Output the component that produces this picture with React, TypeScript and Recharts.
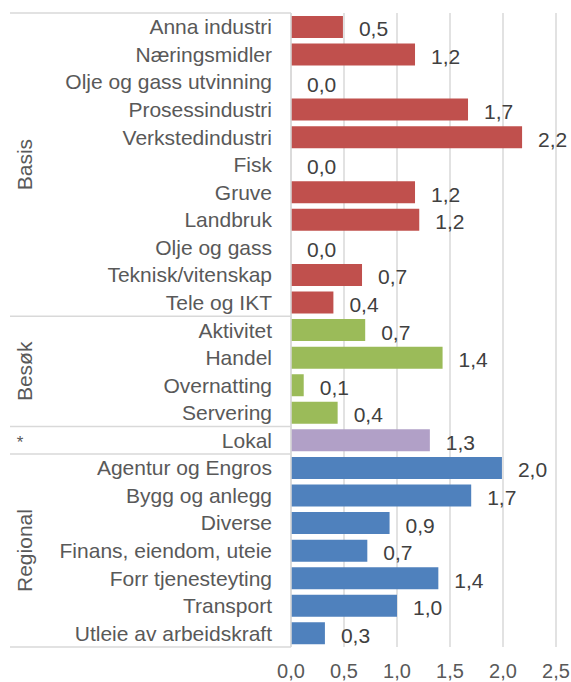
import { Bar, BarChart, CartesianGrid, Cell, LabelList, XAxis, YAxis } from "recharts";

const categories = [
  "Anna industri",
  "Næringsmidler",
  "Olje og gass utvinning",
  "Prosessindustri",
  "Verkstedindustri",
  "Fisk",
  "Gruve",
  "Landbruk",
  "Olje og gass",
  "Teknisk/vitenskap",
  "Tele og IKT",
  "Aktivitet",
  "Handel",
  "Overnatting",
  "Servering",
  "Lokal",
  "Agentur og Engros",
  "Bygg og anlegg",
  "Diverse",
  "Finans, eiendom, uteie",
  "Forr tjenesteyting",
  "Transport",
  "Utleie av arbeidskraft"
];

const values = [
  0.49, 1.17, 0.0, 1.67, 2.18, 0.0, 1.17, 1.21, 0.0, 0.67, 0.4,
  0.7, 1.43, 0.12, 0.44,
  1.31,
  1.99, 1.7, 0.93, 0.72, 1.39, 1.0, 0.32
];

const groupNames = ["Basis", "Besøk", "*", "Regional"];
const groupSizes = [11, 4, 1, 7];
const groupColors = ["#C0504D", "#9BBB59", "#B1A0C7", "#4F81BD"];
const xTicks = [0, 0.5, 1, 1.5, 2, 2.5];

const W = 571;
const H = 682;
const MARGIN = { top: 13, right: 15, bottom: 0, left: 0 };
const X_AXIS_H = 35;
const Y_AXIS_W = 291;
const PLOT_H = H - MARGIN.top - MARGIN.bottom - X_AXIS_H;
const BAND = PLOT_H / categories.length;

const FONT = "'Liberation Sans', Arial, sans-serif";
const TEXT = "#595959";
const LINE = "#d9d9d9";

const groupStarts = groupSizes.map((_, i) =>
  groupSizes.slice(0, i).reduce((a, b) => a + b, 0)
);

const groupOf = (idx: number) => {
  let g = 0;
  groupStarts.forEach((s, i) => {
    if (idx >= s) g = i;
  });
  return g;
};

const data = categories.map((name, i) => ({
  name,
  value: values[i],
  group: groupOf(i)
}));

const fmt = (v: number) => v.toFixed(1).replace(".", ",");

function CategoryTick(props: any) {
  const { x, y, payload, index } = props;
  const top = y - BAND / 2;
  const g = groupStarts.indexOf(index);
  const isLast = index === categories.length - 1;
  let groupLabel = null;
  if (g >= 0) {
    const cy = top + (groupSizes[g] * BAND) / 2;
    const name = groupNames[g];
    groupLabel =
      name === "*" ? (
        <text x={20} y={cy + 2} textAnchor="middle" dominantBaseline="central" fill={TEXT} fontSize={17}>
          {name}
        </text>
      ) : (
        <text
          x={25}
          y={cy}
          textAnchor="middle"
          dominantBaseline="central"
          fill={TEXT}
          fontSize={21}
          transform={`rotate(-90 25 ${cy})`}
        >
          {name}
        </text>
      );
  }
  return (
    <g fontFamily={FONT}>
      {g >= 0 && <line x1={10} x2={Y_AXIS_W} y1={top} y2={top} stroke={LINE} strokeWidth={1.5} />}
      {isLast && (
        <line x1={10} x2={Y_AXIS_W} y1={top + BAND} y2={top + BAND} stroke={LINE} strokeWidth={1.5} />
      )}
      {groupLabel}
      <text x={x} y={y} textAnchor="end" dominantBaseline="central" fill={TEXT} fontSize={21}>
        {payload.value}
      </text>
    </g>
  );
}

function ValueLabel(props: any) {
  const { x, y, width, height, value } = props;
  return (
    <text
      x={Number(x) + Number(width) + 16}
      y={Number(y) + Number(height) / 2 + 2}
      dominantBaseline="central"
      fill="#404040"
      fontSize={21}
      fontFamily={FONT}
    >
      {fmt(Number(value))}
    </text>
  );
}

export default function App() {
  return (
    <div style={{ position: "absolute", left: 0, top: 0, background: "#fff" }}>
      <BarChart
        width={W}
        height={H}
        data={data}
        layout="vertical"
        margin={MARGIN}
        barCategoryGap="10.5%"
      >
        <CartesianGrid vertical horizontal={false} stroke={LINE} strokeWidth={1.5} />
        <XAxis
          type="number"
          domain={[0, 2.5]}
          ticks={xTicks}
          tickFormatter={fmt}
          axisLine={false}
          tickLine={false}
          height={X_AXIS_H}
          tickMargin={11}
          tick={{ fill: TEXT, fontSize: 20, fontFamily: FONT }}
        />
        <YAxis
          type="category"
          dataKey="name"
          width={Y_AXIS_W}
          interval={0}
          tickLine={false}
          tickSize={0}
          tickMargin={19}
          axisLine={{ stroke: LINE, strokeWidth: 1.5 }}
          tick={<CategoryTick />}
        />
        <Bar dataKey="value" isAnimationActive={false} minPointSize={0.01}>
          {data.map((d, i) => (
            <Cell key={i} fill={groupColors[d.group]} />
          ))}
          <LabelList dataKey="value" content={<ValueLabel />} />
        </Bar>
      </BarChart>
    </div>
  );
}
